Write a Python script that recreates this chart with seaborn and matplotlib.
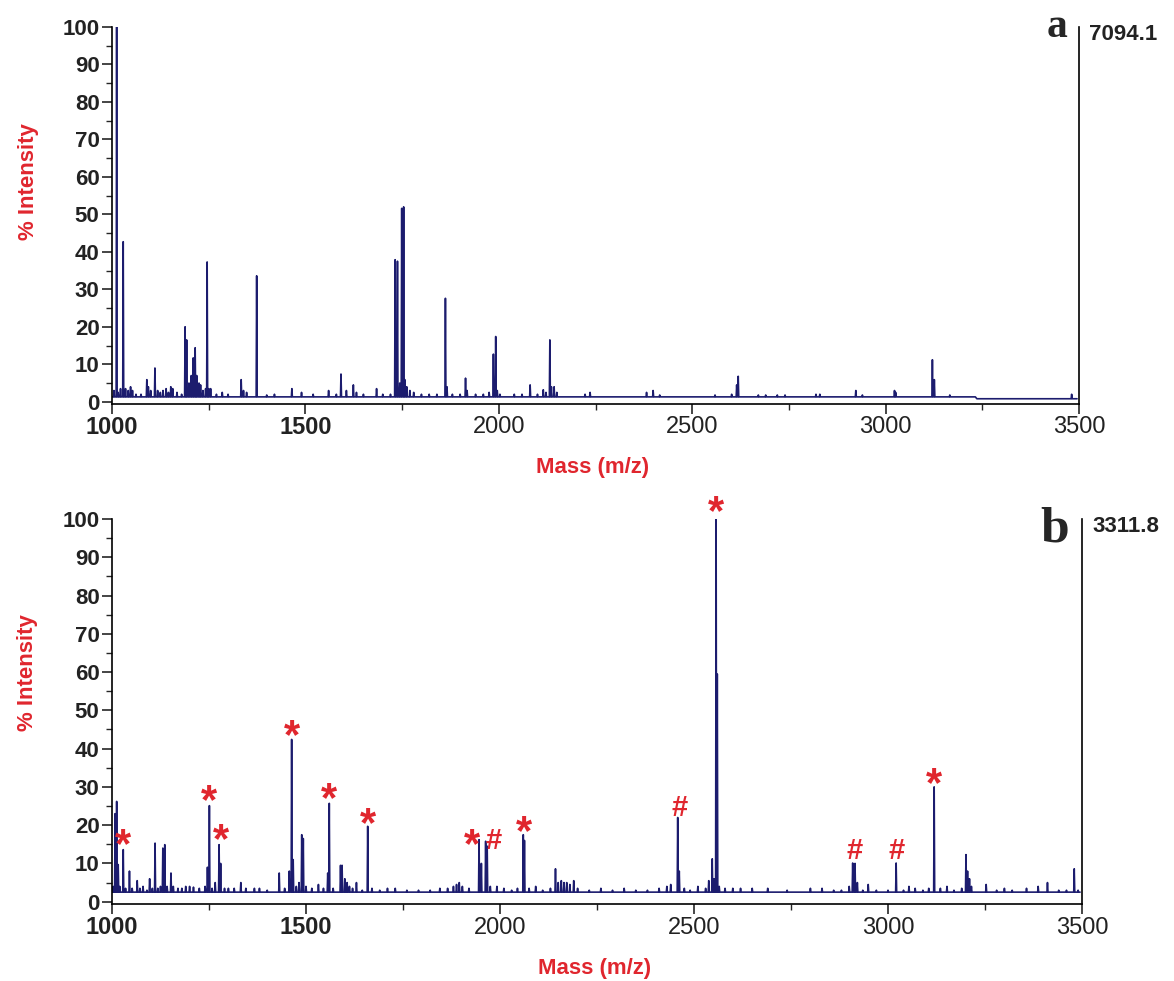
import numpy as np
import pandas as pd
import matplotlib
matplotlib.use("Agg")
import matplotlib.pyplot as plt
import seaborn as sns
from matplotlib.ticker import MultipleLocator

# ---------------- data ----------------
x_ticks = [1000, 1500, 2000, 2500, 3000, 3500]
x_tick_labels = ["1000", "1500", "2000", "2500", "3000", "3500"]
y_ticks = [0, 10, 20, 30, 40, 50, 60, 70, 80, 90, 100]
y_tick_labels = ["0", "10", "20", "30", "40", "50", "60", "70", "80", "90", "100"]

# panel a
a_base_mz = [1000, 3232, 3236, 3495]
a_base_int = [1.3, 1.3, 0.8, 0.8]
a_peak_mz = [1005, 1012, 1016, 1022, 1029, 1035, 1042, 1048, 1053, 1062, 1075, 1090, 1094, 1100,
             1111, 1118, 1125, 1132, 1140, 1146, 1152, 1157, 1168, 1180, 1189, 1193, 1199, 1205,
             1210, 1215, 1219, 1225, 1229, 1235, 1242, 1246, 1250, 1255, 1270, 1285, 1300, 1334,
             1340, 1348, 1374, 1400, 1420, 1465, 1490, 1520, 1560, 1580, 1592, 1606, 1624, 1632,
             1650, 1684, 1700, 1720, 1732, 1738, 1744, 1749, 1754, 1757, 1762, 1770, 1780, 1800,
             1820, 1840, 1862, 1866, 1880, 1900, 1914, 1918, 1940, 1960, 1975, 1986, 1992, 1996,
             2003, 2040, 2060, 2081, 2100, 2115, 2122, 2132, 2136, 2143, 2150, 2223, 2236, 2382,
             2399, 2416, 2559, 2602, 2615, 2619, 2671, 2690, 2720, 2740, 2820, 2830, 2923, 2940,
             3023, 3026, 3121, 3126, 3166, 3481]
a_peak_int = [3, 100, 2.5, 3.5, 42.7, 3.5, 3, 4, 3, 2, 2, 5.9, 4, 3,
              9, 3, 2.5, 3, 3.5, 2.5, 4, 3.5, 2.5, 2, 20, 16.5, 5, 7,
              11.7, 14.4, 7, 5, 4.5, 3, 3.5, 37.3, 3.5, 3.5, 2, 2.5, 2, 5.9,
              3, 2.5, 33.6, 1.8, 2, 3.5, 2.5, 2, 3, 2, 7.4, 3, 4.5, 2.5,
              2, 3.5, 2, 2, 37.9, 37.5, 5, 51.6, 52, 5.9, 4, 3, 2.5, 2,
              2, 2, 27.6, 4, 2, 2, 6.3, 3, 2, 2, 2.5, 12.7, 17.4, 3,
              2, 2, 2, 4.5, 2, 3.2, 2.5, 16.5, 4, 4, 2.5, 2, 2.5, 2.5,
              3, 1.8, 1.8, 2, 4.5, 6.8, 1.8, 1.8, 1.8, 1.8, 2, 2, 3, 1.8,
              3, 2.5, 11.2, 5.9, 1.8, 2]

# panel b
b_base_mz = [1000, 3495]
b_base_int = [2.5, 2.5]
b_peak_mz = [1003, 1008, 1012, 1016, 1020, 1029, 1035, 1045, 1052, 1065, 1072, 1080, 1090, 1097,
             1104, 1111, 1118, 1125, 1131, 1136, 1142, 1152, 1158, 1170, 1180, 1190, 1200, 1210,
             1225, 1240, 1246, 1251, 1258, 1266, 1276, 1280, 1290, 1300, 1315, 1332, 1345, 1367,
             1380, 1400, 1431, 1445, 1457, 1463, 1467, 1475, 1482, 1489, 1493, 1500, 1515, 1532,
             1545, 1556, 1560, 1570, 1589, 1593, 1600, 1606, 1612, 1620, 1630, 1645, 1659, 1670,
             1690, 1710, 1730, 1760, 1790, 1820, 1845, 1865, 1880, 1888, 1895, 1903, 1920, 1946,
             1952, 1963, 1967, 1975, 1992, 2010, 2030, 2045, 2060, 2063, 2075, 2092, 2110, 2130,
             2143, 2150, 2158, 2165, 2172, 2180, 2190, 2200, 2230, 2260, 2290, 2320, 2350, 2380,
             2410, 2430, 2440, 2458, 2462, 2475, 2490, 2510, 2530, 2538, 2547, 2552, 2557, 2560,
             2565, 2580, 2600, 2620, 2650, 2690, 2740, 2800, 2830, 2860, 2880, 2900, 2909, 2915,
             2921, 2935, 2949, 2970, 3000, 3021, 3040, 3054, 3070, 3090, 3105, 3119, 3135, 3152,
             3170, 3190, 3201, 3205, 3210, 3215, 3253, 3280, 3300, 3320, 3357, 3387, 3411, 3440,
             3460, 3480, 3490]
b_peak_int = [4, 23, 26.2, 9.7, 4, 13.6, 3.5, 8, 3.5, 5.5, 3.5, 4, 3, 6,
              3.5, 15.3, 3.5, 4, 14, 14.9, 4, 7.5, 4, 3.5, 3.5, 4, 4, 3.8,
              3.5, 4, 9, 25.1, 3.5, 5, 14.9, 10, 3.5, 3.5, 3.5, 5, 3.5, 3.5,
              3.5, 3, 7.5, 3.5, 8, 42.4, 11, 4, 5, 17.5, 16.5, 4, 3.5, 4.5,
              3.5, 7.5, 25.7, 3.5, 9.5, 9.5, 6, 5, 4, 3.5, 5, 3, 19.7, 3.5,
              3, 3.5, 3.5, 3, 3, 3, 3.5, 3.5, 4, 4.5, 5, 4, 3.5, 16.2,
              10, 15.8, 14.5, 4, 4, 3.5, 3, 3.5, 17.5, 16, 3.5, 4, 3, 3.5,
              8.6, 5, 5.5, 5, 5, 4.5, 5.5, 3.5, 3, 3.5, 3, 3.5, 3, 3,
              3.5, 4, 4.5, 22, 8, 3.5, 3, 4, 3.5, 5.5, 11.2, 6, 100, 59.5,
              4, 3.5, 3.5, 3.5, 3.5, 3.5, 3, 3.5, 3.5, 3, 3, 4, 10.1, 10,
              5, 3, 4.5, 3, 3, 10.1, 3, 4, 3.5, 3, 3.5, 30, 3.5, 4,
              3, 3.5, 12.3, 8, 6, 4, 4.5, 3, 3.5, 3, 3.5, 4, 5, 3,
              3, 8.6, 3]

# annotations (panel b)
b_star_mz = [1029, 1251, 1280, 1463, 1560, 1659, 1927, 2063, 2557, 3119]
b_star_int = [16.6, 28.3, 17.9, 45.2, 28.8, 22.3, 16.6, 20.0, 103.6, 32.6]
b_hash_mz = [1983, 2462, 2915, 3021]
b_hash_int = [16.6, 25.1, 14.0, 14.0]

panel_letters = ["a", "b"]
panel_maxima = ["7094.1", "3311.8"]

# ---------------- style ----------------
sns.set_theme(style="ticks")
plt.rcParams["font.family"] = ["Liberation Sans", "DejaVu Sans"]
LINE = "#1c1c6e"
RED = "#e0262e"


def spectrum_frame(base_mz, base_int, peak_mz, peak_int, w=1.3):
    xs = list(base_mz)
    ys = list(base_int)
    for m, h in zip(peak_mz, peak_int):
        b = float(np.interp(m, base_mz, base_int))
        xs += [m - w, m, m + w]
        ys += [b, h, b]
    df = pd.DataFrame({"mz": xs, "intensity": ys}).sort_values("mz", kind="stable")
    return df


fig = plt.figure(figsize=(11.74, 9.81), dpi=100)
ax_a = fig.add_axes([112 / 1174, 1 - 404 / 981, (1079 - 112) / 1174, (404 - 27) / 981])
ax_b = fig.add_axes([112 / 1174, 1 - 904 / 981, (1082 - 112) / 1174, (904 - 519) / 981])

panels = [
    (ax_a, a_base_mz, a_base_int, a_peak_mz, a_peak_int),
    (ax_b, b_base_mz, b_base_int, b_peak_mz, b_peak_int),
]

for i, (ax, bm, bi, pm, pi) in enumerate(panels):
    df = spectrum_frame(bm, bi, pm, pi)
    sns.lineplot(data=df, x="mz", y="intensity", ax=ax, estimator=None, sort=False,
                 color=LINE, linewidth=1.2)
    ax.set_xlim(1000, 3500)
    ax.set_ylim(-0.6, 100)
    ax.spines["top"].set_visible(False)
    for s in ["left", "bottom", "right"]:
        ax.spines[s].set_linewidth(1.2)
        ax.spines[s].set_color("black")
    ax.set_xticks(x_ticks)
    ax.set_xticklabels(x_tick_labels, fontsize=17)
    for j, lab in enumerate(ax.get_xticklabels()):
        lab.set_fontweight("bold" if j < 2 else "normal")
        lab.set_color("#222222")
    ax.set_yticks(y_ticks)
    ax.set_yticklabels(y_tick_labels, fontsize=16, fontweight="bold", color="#222222")
    ax.xaxis.set_minor_locator(MultipleLocator(250))
    ax.yaxis.set_minor_locator(MultipleLocator(5))
    ax.tick_params(axis="both", which="major", length=7, width=1.2, direction="out", pad=2)
    ax.tick_params(axis="both", which="minor", length=4, width=1.0, direction="out")
    ax.tick_params(axis="y", right=False)
    ax.set_xlabel("Mass (m/z)", fontsize=16, fontweight="bold", color=RED)
    ax.set_ylabel("% Intensity", fontsize=16, fontweight="bold", color=RED)
    ax.xaxis.set_label_coords(0.497, -0.14)
    ax.yaxis.set_label_coords(-0.076, 0.59 if i == 0 else 0.6)
    ax.grid(False)

# panel letters and maxima
fig.text(1067 / 1174, 1 - 37 / 981, panel_letters[0], fontsize=30, fontweight="bold",
         family="Liberation Serif", ha="right", va="baseline")
fig.text(1069 / 1174, 1 - 542 / 981, panel_letters[1], fontsize=37, fontweight="bold",
         family="Liberation Serif", ha="right", va="baseline")
fig.text(1089 / 1174, 1 - 35 / 981, panel_maxima[0], fontsize=16, fontweight="bold",
         color="#222222", ha="left", va="center")
fig.text(1092 / 1174, 1 - 527 / 981, panel_maxima[1], fontsize=16, fontweight="bold",
         color="#222222", ha="left", va="center")

# annotations
for m, y in zip(b_star_mz, b_star_int):
    ax_b.annotate("*", xy=(m, y), xytext=(0, -6), textcoords="offset points",
                  fontsize=30, fontweight="bold", color=RED, ha="center", va="center",
                  annotation_clip=False)
for m, y in zip(b_hash_mz, b_hash_int):
    ax_b.annotate("#", xy=(m, y), xytext=(0, -2), textcoords="offset points",
                  fontsize=21, fontweight="bold", color=RED, ha="center", va="center",
                  annotation_clip=False)

fig.savefig("out.png", dpi=100, facecolor="white")
